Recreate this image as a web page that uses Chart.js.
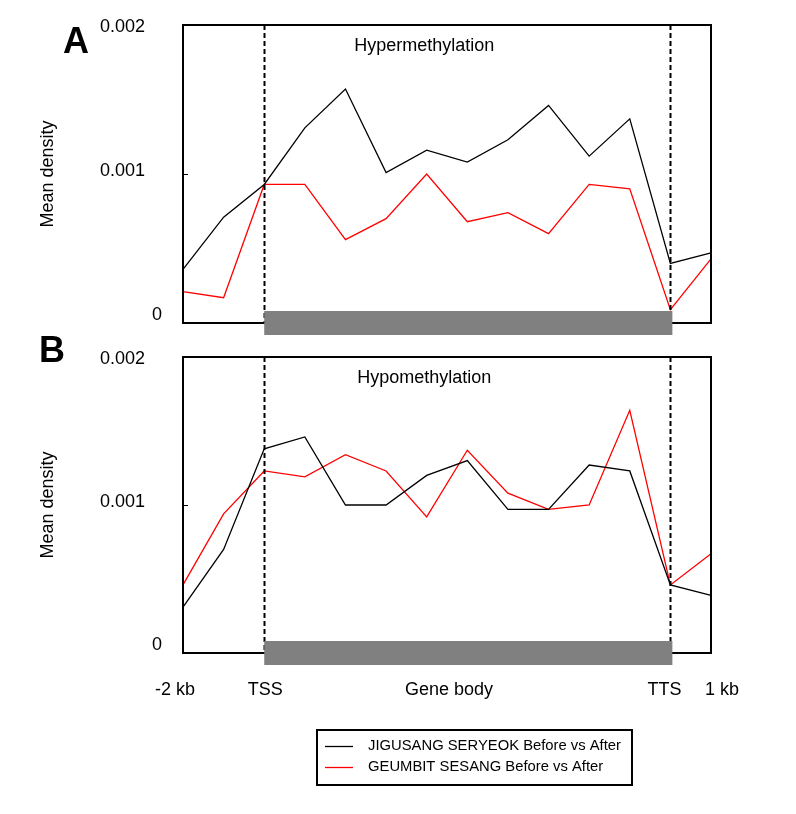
<!DOCTYPE html>
<html>
<head>
<meta charset="utf-8">
<script src="https://cdn.jsdelivr.net/npm/chart.js@4/dist/chart.umd.min.js"></script>
<style>
  body { margin: 0; background: #fff; }
  #wrap { position: relative; width: 796px; height: 814px; }
  canvas { position: absolute; left: 0; }
  #chartA { top: 0; }
  #chartB { top: 330px; }
</style>
</head>
<body>
<div id="wrap">
  <canvas id="chartA" width="796" height="345"></canvas>
  <canvas id="chartB" width="796" height="484"></canvas>
</div>
<script>
// 14 bins: 2 upstream, 10 gene body, 1 downstream (+ end point)
const bins = [0, 1, 2, 3, 4, 5, 6, 7, 8, 9, 10, 11, 12, 13];
const tssIdx = 2;
const ttsIdx = 12;

const seriesNames = ['JIGUSANG SERYEOK Before vs After', 'GEUMBIT SESANG Before vs After'];

// A: hypermethylation
const hyperJigusang = [0.00036, 0.00071, 0.00093, 0.00131, 0.00157, 0.00101, 0.00116, 0.00108, 0.00123, 0.00146, 0.00112, 0.00137, 0.00040, 0.00047];
const hyperGeumbit  = [0.00021, 0.00017, 0.00093, 0.00093, 0.00056, 0.00070, 0.00100, 0.00068, 0.00074, 0.00060, 0.00093, 0.00090, 0.00009, 0.00043];

// B: hypomethylation
const hypoJigusang = [0.00031, 0.00070, 0.00138, 0.00146, 0.00100, 0.00100, 0.00120, 0.00130, 0.00097, 0.00097, 0.00127, 0.00123, 0.00046, 0.00039];
const hypoGeumbit  = [0.00046, 0.00094, 0.00123, 0.00119, 0.00134, 0.00123, 0.00092, 0.00137, 0.00108, 0.00097, 0.00100, 0.00164, 0.00046, 0.00067];

const yTicks = [0, 0.001, 0.002];
const yTickLabels = ['0', '0.001', '0.002'];
const xTickPos = [0, 2, 6.5, 12, 13];
const xTickLabels = ['-2 kb', 'TSS', 'Gene body', 'TTS', '1 kb'];

Chart.defaults.font.family = '"Liberation Sans", Arial, sans-serif';
Chart.defaults.color = '#000';

const panelDeco = {
  id: 'panelDeco',
  afterDatasetsDraw(chart, args, o) {
    const { ctx, chartArea: a, scales: { x, y } } = chart;
    ctx.save();

    // TSS / TTS dashed lines
    ctx.strokeStyle = '#000';
    ctx.lineWidth = 2;
    ctx.setLineDash([5, 3]);
    [tssIdx, ttsIdx].forEach(i => {
      const px = Math.round(x.getPixelForValue(i)) + 0.5;
      ctx.beginPath();
      ctx.moveTo(px, a.top);
      ctx.lineTo(px, a.bottom);
      ctx.stroke();
    });
    ctx.setLineDash([]);

    // frame
    ctx.lineWidth = 2;
    ctx.strokeRect(a.left, a.top, a.right - a.left, a.bottom - a.top);

    // inward ticks
    ctx.lineWidth = 1;
    yTicks.forEach(v => {
      const py = Math.round(y.getPixelForValue(v)) + 0.5;
      ctx.beginPath();
      ctx.moveTo(a.left, py);
      ctx.lineTo(a.left + 5, py);
      ctx.stroke();
    });

    // gene body bar
    const x1 = x.getPixelForValue(tssIdx);
    const x2 = x.getPixelForValue(ttsIdx);
    ctx.fillStyle = '#808080';
    ctx.fillRect(x1, a.bottom - 12, x2 - x1 + 2, 24);

    // y tick labels
    ctx.fillStyle = '#000';
    ctx.font = '18px "Liberation Sans", Arial, sans-serif';
    ctx.textBaseline = 'middle';
    ctx.textAlign = 'left';
    yTicks.forEach((v, i) => {
      const py = y.getPixelForValue(v);
      if (v === 0) ctx.fillText(yTickLabels[i], a.left - 31, py - 8);
      else if (i === yTicks.length - 1) ctx.fillText(yTickLabels[i], a.left - 83, py + 2);
      else ctx.fillText(yTickLabels[i], a.left - 83, py - 3);
    });

    // y axis title
    ctx.save();
    ctx.translate(a.left - 135, (a.top + a.bottom) / 2);
    ctx.rotate(-Math.PI / 2);
    ctx.textAlign = 'center';
    ctx.fillText('Mean density', 0, 0);
    ctx.restore();

    // panel title
    ctx.textAlign = 'center';
    ctx.fillText(o.title, a.left + (a.right - a.left) * 0.457, a.top + 21);

    // panel letter
    ctx.font = 'bold 36px "Liberation Sans", Arial, sans-serif';
    ctx.fillText(o.letter, o.letterX, o.letterY);

    // x labels (bottom panel only)
    if (o.xLabels) {
      ctx.font = '18px "Liberation Sans", Arial, sans-serif';
      const nudge = [-8, 1, 2, -6, 11];
      xTickPos.forEach((v, i) => {
        ctx.fillText(xTickLabels[i], x.getPixelForValue(v) + nudge[i], a.bottom + 37);
      });
    }

    // legend
    if (o.legend) {
      const lx = 317, ly = a.bottom + 77;
      ctx.strokeStyle = '#000';
      ctx.lineWidth = 2;
      ctx.strokeRect(lx, ly, 315, 55);
      ctx.font = '14.8px "Liberation Sans", Arial, sans-serif';
      ctx.textAlign = 'left';
      chart.data.datasets.forEach((ds, i) => {
        const yy = ly + 16 + i * 21;
        ctx.strokeStyle = ds.borderColor;
        ctx.lineWidth = 1.3;
        ctx.beginPath();
        ctx.moveTo(lx + 8, yy + 0.5);
        ctx.lineTo(lx + 36, yy + 0.5);
        ctx.stroke();
        ctx.fillText(ds.label, lx + 51, yy);
      });
    }
    ctx.restore();
  }
};

function makePanel(id, blackVals, redVals, deco, padding) {
  return new Chart(document.getElementById(id), {
    type: 'line',
    data: {
      labels: bins,
      datasets: [
        { label: seriesNames[0], data: blackVals, borderColor: '#000', borderWidth: 1.3, pointRadius: 0, tension: 0 },
        { label: seriesNames[1], data: redVals, borderColor: '#ff0000', borderWidth: 1.3, pointRadius: 0, tension: 0 }
      ]
    },
    options: {
      responsive: false,
      animation: false,
      devicePixelRatio: 1,
      layout: { padding: padding },
      scales: {
        x: { display: false },
        y: { display: false, min: 0, max: 0.002 }
      },
      plugins: {
        legend: { display: false },
        tooltip: { enabled: false },
        panelDeco: deco
      }
    },
    plugins: [panelDeco]
  });
}

makePanel('chartA', hyperJigusang, hyperGeumbit,
  { title: 'Hypermethylation', letter: 'A', letterX: 76, letterY: 43 },
  { left: 183, right: 85, top: 25, bottom: 22 });

makePanel('chartB', hypoJigusang, hypoGeumbit,
  { title: 'Hypomethylation', letter: 'B', letterX: 52, letterY: 22, xLabels: true, legend: true },
  { left: 183, right: 85, top: 27, bottom: 161 });
</script>
</body>
</html>
